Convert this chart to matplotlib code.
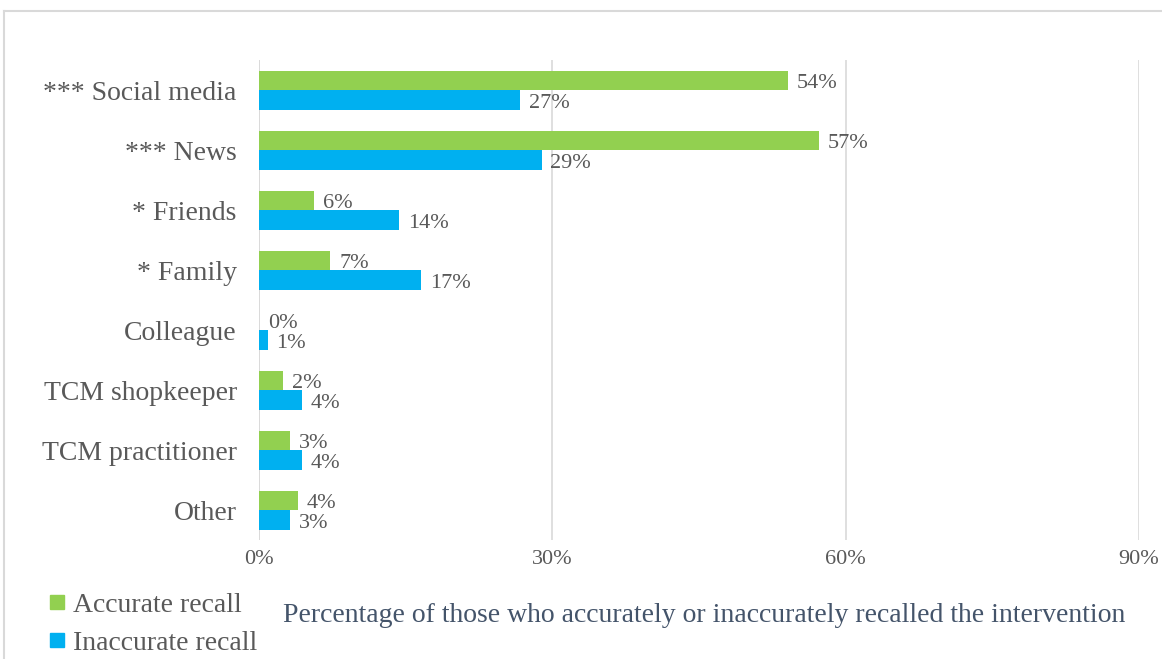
import matplotlib
matplotlib.use("Agg")
import matplotlib.pyplot as plt
from matplotlib.lines import Line2D
import numpy as np

categories = ["*** Social media", "*** News", "* Friends", "* Family", "Colleague",
              "TCM shopkeeper", "TCM practitioner", "Other"]
accurate = [54, 57, 6, 7, 0, 2, 3, 4]
inaccurate = [27, 29, 14, 17, 1, 4, 4, 3]
accurate_plot = [54.1, 57.3, 5.6, 7.3, 0, 2.5, 3.2, 4.0]
inaccurate_plot = [26.7, 28.9, 14.3, 16.6, 0.9, 4.4, 4.4, 3.2]
xticks = [0, 30, 60, 90]

GREEN = "#92D050"
BLUE = "#00B0F0"
TXT = "#595959"

plt.rcParams['font.family'] = ['Liberation Serif', 'DejaVu Serif']

fig = plt.figure(figsize=(11.62, 6.59), dpi=100)
ax = fig.add_axes([259/1162, 1-540/659, (1139-259)/1162, (540-60)/659])

n = len(categories)
y = np.arange(n)
h = 0.325
ax.barh(y - h/2, accurate_plot, height=h, color=GREEN, zorder=3)
ax.barh(y + h/2, inaccurate_plot, height=h, color=BLUE, zorder=3)

for i in range(n):
    ax.text(accurate_plot[i] + 0.9, y[i] - h/2 + 0.06, f"{accurate[i]}%", va="center", ha="left",
            fontsize=16, color=TXT, zorder=4)
    ax.text(inaccurate_plot[i] + 0.9, y[i] + h/2 + 0.06, f"{inaccurate[i]}%", va="center", ha="left",
            fontsize=16, color=TXT, zorder=4)

ax.set_ylim(n - 0.5, -0.5)
ax.set_xlim(0, 90)
ax.set_yticks(y)
ax.set_yticklabels(categories, fontsize=20, color=TXT)
ax.set_xticks(xticks)
ax.set_xticklabels([f"{t}%" for t in xticks], fontsize=16, color=TXT)
ax.tick_params(axis='both', length=0)
ax.tick_params(axis='y', pad=16)
ax.tick_params(axis='x', pad=7)
for s in ax.spines.values():
    s.set_visible(False)
ax.axvline(0, color="#D9D9D9", lw=1.2, zorder=2)
ax.grid(axis='x', color="#D9D9D9", lw=1.2, zorder=1)
ax.set_axisbelow(True)

# axis title
fig.text(704/1162, 1-616/659, "Percentage of those who accurately or inaccurately recalled the intervention",
         ha="center", va="center", fontsize=20, color="#44546A")

# legend
handles = [Line2D([], [], marker='s', ls='none', color=GREEN, markersize=10),
           Line2D([], [], marker='s', ls='none', color=BLUE, markersize=10)]
leg = fig.legend(handles, ["Accurate recall", "Inaccurate recall"], loc="center left",
                 bbox_to_anchor=(24/1162, 1-624/659), frameon=False, fontsize=20,
                 handletextpad=0.05, labelspacing=0.45, handlelength=1.0,
                 borderpad=0.2)
for t in leg.get_texts():
    t.set_color(TXT)

# figure border
fig.add_artist(Line2D([4/1162, 4/1162], [0, 1-11/659], transform=fig.transFigure, color="#D9D9D9", lw=1.5))
fig.add_artist(Line2D([4/1162, 1], [1-11/659, 1-11/659], transform=fig.transFigure, color="#D9D9D9", lw=1.5))

fig.savefig("out.png", dpi=100)
